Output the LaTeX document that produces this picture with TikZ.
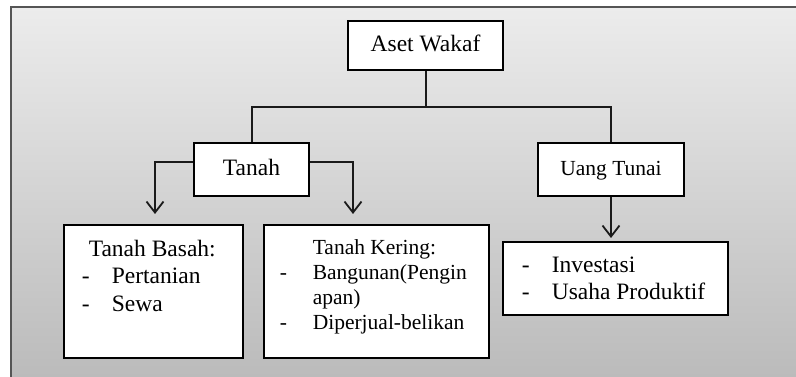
\documentclass[tikz,border=0pt]{standalone}
\usepackage{fontspec}
\setmainfont{Liberation Serif}
\usetikzlibrary{arrows.meta}
\definecolor{bgtop}{HTML}{ECECEC}
\definecolor{bgbot}{HTML}{B9B9B9}
\definecolor{framec}{HTML}{555555}
\definecolor{linec}{HTML}{1A1A1A}
\begin{document}
\begin{tikzpicture}[x=1pt,y=-1pt,
  bigfont/.style={font=\fontsize{23.5}{27.5}\selectfont},
  smallfont/.style={font=\fontsize{21.5}{25.3}\selectfont},
  box/.style={draw=black, line width=1.6pt, fill=white, inner sep=0pt},
  headbox/.style={box, text height=16pt, text depth=4pt},
  conn/.style={draw=linec, line width=2pt},
  arr/.style={conn, -{Straight Barb[length=11pt,width=17pt,line width=1.8pt]}}
]
\useasboundingbox (0,0) rectangle (796,377);
\clip (0,0) rectangle (796,377);
\fill[white] (0,0) rectangle (796,377);
\path[draw=framec, line width=1.8pt, top color=bgtop, bottom color=bgbot]
  (11,7) rectangle (810,392);

% head nodes
\node[headbox, bigfont, minimum width=155pt, minimum height=49pt] (aset) at (425.5,45.5) {Aset Wakaf};
\node[headbox, bigfont, minimum width=115pt, minimum height=53pt] (tanah) at (251.5,169.5) {Tanah};
\node[headbox, smallfont, minimum width=146pt, minimum height=53pt] (uang) at (611,169.5) {Uang Tunai};

% leaf boxes
\node[box, bigfont, anchor=north west] (basah) at (63,224)
 {\parbox[c][133pt][t]{179pt}{\raggedright\parindent0pt\vspace*{15pt}%
  \hspace*{25pt}Tanah Basah:\\
  \hspace*{18pt}\makebox[30pt][l]{-}Pertanian\\
  \hspace*{18pt}\makebox[30pt][l]{-}Sewa}};
\node[box, smallfont, anchor=north west] (kering) at (263,224)
 {\parbox[c][133pt][t]{225pt}{\raggedright\parindent0pt\vspace*{14.3pt}%
  \hspace*{49pt}Tanah Kering:\\
  \hspace*{16pt}\makebox[33pt][l]{-}Bangunan(Pengin\\
  \hspace*{49pt}apan)\\
  \hspace*{16pt}\makebox[33pt][l]{-}Diperjual-belikan}};
\node[box, bigfont, anchor=north west] (invest) at (502,241)
 {\parbox[c][73pt][t]{225pt}{\raggedright\parindent0pt\vspace*{15pt}%
  \hspace*{19pt}\makebox[30pt][l]{-}Investasi\\
  \hspace*{19pt}\makebox[30pt][l]{-}Usaha Produktif}};

% connectors
\coordinate (j) at (425.5,107);
\coordinate (ty) at (0,162);
\coordinate (bx) at (155,0);
\coordinate (kx) at (353,0);
\draw[conn] (aset.south) -- (j);
\draw[conn] (tanah.north) |- (j) -| (uang.north);
\draw[arr, shorten >=10pt] (tanah.west |- ty) -| (basah.north -| bx);
\draw[arr, shorten >=10pt] (tanah.east |- ty) -| (kering.north -| kx);
\draw[arr, shorten >=3pt] (uang.south) -- (uang.south |- invest.north);
\end{tikzpicture}
\end{document}
